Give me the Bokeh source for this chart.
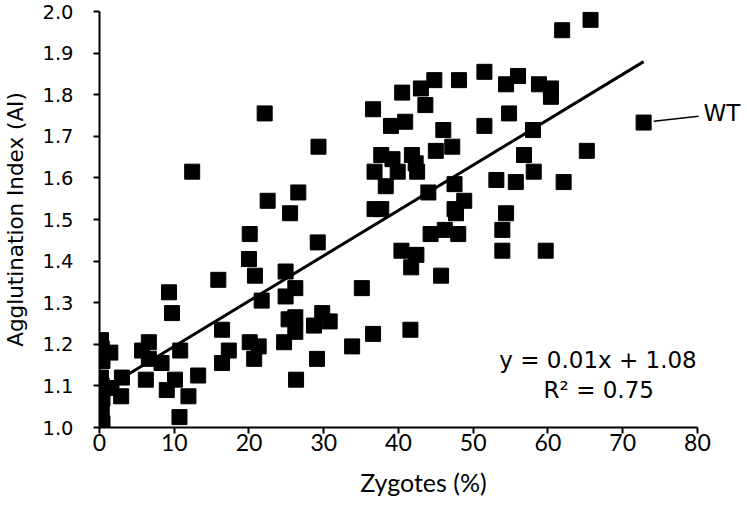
from bokeh.plotting import figure
from bokeh.models import Range1d, Label, NumeralTickFormatter
from bokeh.embed import file_html
from bokeh.resources import INLINE

# ---- data ----
zygotes = [0.2, 0.3, 0.1, 0.4, 0.2, 0.3, 0.1, 0.4, 0.2, 0.1, 0.3, 0.2, 0.1, 0.4,
           1.45, 1.6, 3.0, 2.9,
           5.7, 6.6, 6.6, 6.2, 8.3, 9.0,
           9.3, 9.7, 10.8, 10.1, 11.9, 10.7, 13.2,
           12.4,
           15.9, 16.4, 17.3, 16.4,
           20.1, 20.0, 20.8, 21.7, 20.1, 21.3, 20.7,
           22.1, 22.5,
           24.9, 24.9, 26.2, 24.7, 26.3, 25.3, 26.2, 26.2,
           25.5, 26.6,
           29.3, 29.2, 28.7, 29.8, 30.8, 29.1,
           33.8, 35.1,
           36.6, 36.6, 36.8, 37.7,
           37.7, 39.2, 41.8, 42.3, 36.8, 39.9, 42.5, 38.3,
           39.0, 40.9, 40.5, 43.0, 43.6, 44.8, 48.1,
           41.6, 40.4, 42.4, 41.7,
           44.0, 44.3, 46.2, 48.0, 45.7,
           46.0, 47.2, 45.0, 47.5, 48.8, 47.5, 47.7,
           51.5, 51.5, 54.4, 56.0, 58.8, 60.4, 60.4, 54.8, 58.0, 56.8, 65.2, 58.1, 53.1, 55.7, 62.1,
           61.9, 65.7,
           54.4, 53.9, 53.9, 59.7]

agglutination = [1.21, 1.19, 1.17, 1.16, 1.12, 1.10, 1.08, 1.07, 1.06, 1.05, 1.04, 1.03, 1.02, 1.01,
                 1.18, 1.095, 1.12, 1.075,
                 1.185, 1.205, 1.165, 1.115, 1.155, 1.09,
                 1.325, 1.275, 1.185, 1.115, 1.075, 1.025, 1.125,
                 1.615,
                 1.355, 1.235, 1.185, 1.155,
                 1.465, 1.405, 1.365, 1.305, 1.205, 1.195, 1.165,
                 1.755, 1.545,
                 1.375, 1.315, 1.335, 1.205, 1.115, 1.26, 1.265, 1.23,
                 1.515, 1.565,
                 1.675, 1.445, 1.245, 1.275, 1.255, 1.165,
                 1.195, 1.335,
                 1.225, 1.765, 1.525, 1.525,
                 1.655, 1.645, 1.655, 1.635, 1.615, 1.615, 1.615, 1.58,
                 1.725, 1.735, 1.805, 1.815, 1.775, 1.835, 1.835,
                 1.235, 1.425, 1.415, 1.385,
                 1.565, 1.465, 1.475, 1.465, 1.365,
                 1.715, 1.675, 1.665, 1.585, 1.545, 1.525, 1.515,
                 1.855, 1.725, 1.825, 1.845, 1.825, 1.815, 1.795, 1.755, 1.715, 1.655, 1.665, 1.615, 1.595, 1.59, 1.59,
                 1.955, 1.98,
                 1.515, 1.475, 1.425, 1.425]

wt_zygotes = 72.8
wt_agglutination = 1.733
wt_text = "WT"

trend_slope = 0.0109
trend_intercept = 1.086
equation_text = "y = 0.01x + 1.08"
r2_text = "R\u00b2 = 0.75"

x_ticks = [0, 10, 20, 30, 40, 50, 60, 70, 80]
y_ticks = [1.0, 1.1, 1.2, 1.3, 1.4, 1.5, 1.6, 1.7, 1.8, 1.9, 2.0]
x_title = "Zygotes (%)"
y_title = "Agglutination Index (AI)"

# ---- figure ----
# frame spans x 0..86.7 so the "WT" note fits; the x axis itself stops at 80
p = figure(width=747, height=506, output_backend="svg", toolbar_location=None,
           x_range=Range1d(0, 86.7), y_range=Range1d(1.0, 2.0),
           min_border_left=97, min_border_right=0, min_border_top=11, min_border_bottom=79)
p.outline_line_color = None
p.xgrid.visible = False
p.ygrid.visible = False
p.background_fill_color = "white"
p.border_fill_color = "white"

all_x = zygotes + [wt_zygotes]
all_y = agglutination + [wt_agglutination]
p.scatter(all_x, all_y, marker="square", size=15, fill_color="black", line_color="black")

tx = [min(all_x), max(all_x)]
ty = [trend_slope * v + trend_intercept for v in tx]
p.line(tx, ty, line_width=3, line_color="black")

# WT leader line and note
p.segment(x0=[wt_zygotes + 1.35], y0=[wt_agglutination + 0.003],
          x1=[wt_zygotes + 7.35], y1=[wt_agglutination + 0.015],
          line_width=1.5, line_color="black")
p.add_layout(Label(x=wt_zygotes, y=wt_agglutination, x_offset=60, y_offset=10, text=wt_text,
                   text_font="DejaVu Sans", text_font_size="23px", text_baseline="middle",
                   text_align="left", text_color="black"))

p.add_layout(Label(x=66.7, y=1.163, text=equation_text, text_font="DejaVu Sans",
                   text_font_size="23px", text_align="center", text_baseline="middle",
                   text_color="black"))
p.add_layout(Label(x=66.8, y=1.089, text=r2_text, text_font="DejaVu Sans",
                   text_font_size="23px", text_align="center", text_baseline="middle",
                   text_color="black"))

for ax in (p.xaxis[0], p.yaxis[0]):
    ax.axis_line_color = "black"
    ax.axis_line_width = 2
    ax.major_tick_line_color = "black"
    ax.major_tick_line_width = 2
    ax.major_tick_out = 6
    ax.major_tick_in = 0
    ax.minor_tick_line_color = None
    ax.major_label_text_color = "black"
    ax.axis_label_text_color = "black"
    ax.axis_label_text_font_style = "normal"

p.xaxis.ticker = x_ticks
p.xaxis.bounds = (0, 80)
p.xaxis.major_label_text_font = "Lato"
p.xaxis.major_label_text_font_size = "23px"
p.xaxis.major_label_standoff = 0
p.xaxis.axis_label = x_title
p.xaxis.axis_label_text_font = "Lato"
p.xaxis.axis_label_text_font_size = "25px"
p.xaxis.axis_label_standoff = 13

p.yaxis.ticker = y_ticks
p.yaxis.formatter = NumeralTickFormatter(format="0.0")
p.yaxis.major_label_text_font = "DejaVu Sans"
p.yaxis.major_label_text_font_size = "19.5px"
p.yaxis.major_label_standoff = 20
p.yaxis.axis_label = y_title
p.yaxis.axis_label_text_font = "DejaVu Sans"
p.yaxis.axis_label_text_font_size = "21.5px"
p.yaxis.axis_label_standoff = 11

open("out.html", "w").write(file_html(p, INLINE))
